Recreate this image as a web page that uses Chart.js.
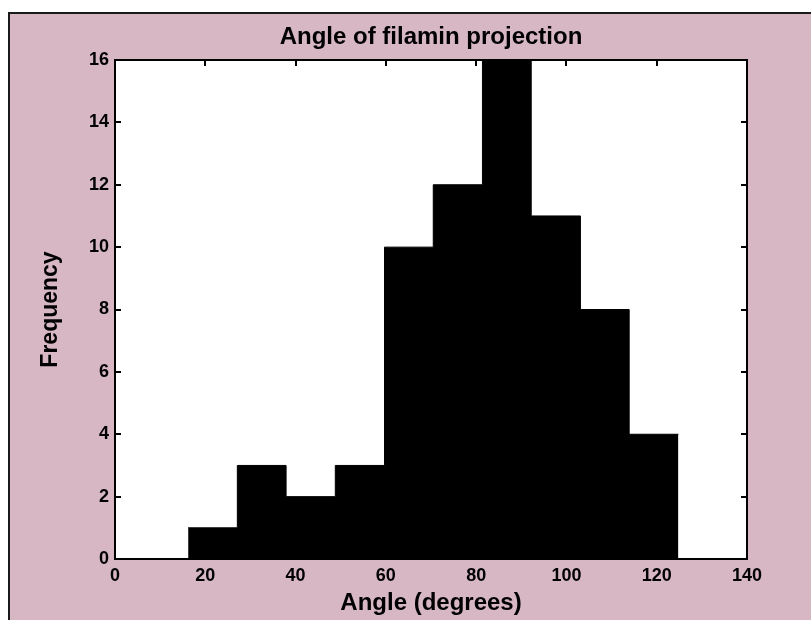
<!DOCTYPE html>
<html>
<head>
<meta charset="utf-8">
<script src="https://cdn.jsdelivr.net/npm/chart.js@4"></script>
<style>
  html, body { margin: 0; padding: 0; background: #ffffff; }
  #wrap { width: 811px; height: 620px; }
</style>
</head>
<body>
<div id="wrap"><canvas id="hist" width="811" height="620"></canvas></div>
<script>
// Histogram bins: left edges of each bin plus the final right edge (degrees)
const binEdges = [16.2, 27.1, 37.9, 48.8, 59.7, 70.5, 81.4, 92.2, 103.1, 113.9, 124.8];
// Number of measurements falling in each bin
const binCounts = [1, 3, 2, 3, 10, 12, 16, 11, 8, 4];
// Axis tick values
const xTicks = [0, 20, 40, 60, 80, 100, 120, 140];
const yTicks = [0, 2, 4, 6, 8, 10, 12, 14, 16];

const titleText = 'Angle of filamin projection';
const xLabel = 'Angle (degrees)';
const yLabel = 'Frequency';

// Step outline: each bin's height starts at its left edge; the last edge closes the final bin
const stepPoints = binEdges.map((e, i) => ({ x: e, y: binCounts[Math.min(i, binCounts.length - 1)] }));

const FONT = "'Liberation Sans', Arial, Helvetica, sans-serif";
const PAPER = '#d8b7c5';

// Figure background with its frame, and the boxed axes with inward ticks
const figurePlugin = {
  id: 'figureFrame',
  beforeDraw(chart) {
    const { ctx, width, height } = chart;
    ctx.save();
    ctx.fillStyle = '#ffffff';
    ctx.fillRect(0, 0, width, height);
    ctx.fillStyle = PAPER;
    ctx.fillRect(9, 13, width - 9, height - 13);
    ctx.strokeStyle = '#1a1a1a';
    ctx.lineWidth = 2;
    ctx.beginPath();
    ctx.moveTo(width, 13);
    ctx.lineTo(9, 13);
    ctx.lineTo(9, height);
    ctx.stroke();
    const a = chart.chartArea;
    ctx.fillStyle = '#ffffff';
    ctx.fillRect(a.left, a.top, a.right - a.left, a.bottom - a.top);
    ctx.restore();
  },
  afterDatasetsDraw(chart) {
    const { ctx, chartArea: a, scales } = chart;
    const len = 6;
    ctx.save();
    ctx.strokeStyle = '#000000';
    ctx.lineWidth = 2;
    ctx.beginPath();
    scales.x.ticks.forEach(t => {
      const px = Math.round(scales.x.getPixelForValue(t.value));
      ctx.moveTo(px, a.bottom); ctx.lineTo(px, a.bottom - len);
      ctx.moveTo(px, a.top); ctx.lineTo(px, a.top + len);
    });
    scales.y.ticks.forEach(t => {
      const py = Math.round(scales.y.getPixelForValue(t.value));
      ctx.moveTo(a.left, py); ctx.lineTo(a.left + len, py);
      ctx.moveTo(a.right, py); ctx.lineTo(a.right - len, py);
    });
    ctx.stroke();
    ctx.strokeRect(a.left, a.top, a.right - a.left, a.bottom - a.top);
    ctx.restore();
  }
};

new Chart(document.getElementById('hist'), {
  type: 'line',
  data: {
    datasets: [{
      label: 'Frequency',
      data: stepPoints,
      stepped: 'before',
      fill: 'origin',
      backgroundColor: '#000000',
      borderColor: '#000000',
      borderWidth: 1,
      pointRadius: 0,
      pointHoverRadius: 0,
      tension: 0
    }]
  },
  options: {
    responsive: false,
    animation: false,
    devicePixelRatio: 1,
    layout: { padding: { left: 0, right: 64, top: 0, bottom: 0 } },
    plugins: {
      legend: { display: false },
      tooltip: { enabled: false },
      title: {
        display: true,
        fullSize: false,
        text: titleText,
        color: '#000000',
        font: { family: FONT, size: 24, weight: 'bold', lineHeight: 1.2 },
        padding: { top: 22.6, bottom: 8.6 }
      }
    },
    scales: {
      x: {
        type: 'linear',
        min: 0,
        max: 140,
        afterBuildTicks: s => { s.ticks = xTicks.map(v => ({ value: v })); },
        afterFit: s => { s.height = 61; },
        grid: { display: false, drawTicks: false },
        border: { display: false },
        ticks: {
          color: '#000000',
          padding: 6,
          maxRotation: 0,
          font: { family: FONT, size: 18, weight: 'bold' }
        },
        title: {
          display: true,
          text: xLabel,
          color: '#000000',
          font: { family: FONT, size: 24, weight: 'bold', lineHeight: 1.2 },
          padding: { top: 0, bottom: 2.6 }
        }
      },
      y: {
        type: 'linear',
        min: 0,
        max: 16,
        afterBuildTicks: s => { s.ticks = yTicks.map(v => ({ value: v })); },
        afterFit: s => { s.width = 115; },
        grid: { display: false, drawTicks: false },
        border: { display: false },
        ticks: {
          color: '#000000',
          padding: 6,
          font: { family: FONT, size: 18, weight: 'bold' }
        },
        title: {
          display: true,
          text: yLabel,
          color: '#000000',
          font: { family: FONT, size: 23, weight: 'bold', lineHeight: 1.2 },
          padding: { top: 37.2, bottom: 0 }
        }
      }
    }
  },
  plugins: [figurePlugin]
});
</script>
</body>
</html>
